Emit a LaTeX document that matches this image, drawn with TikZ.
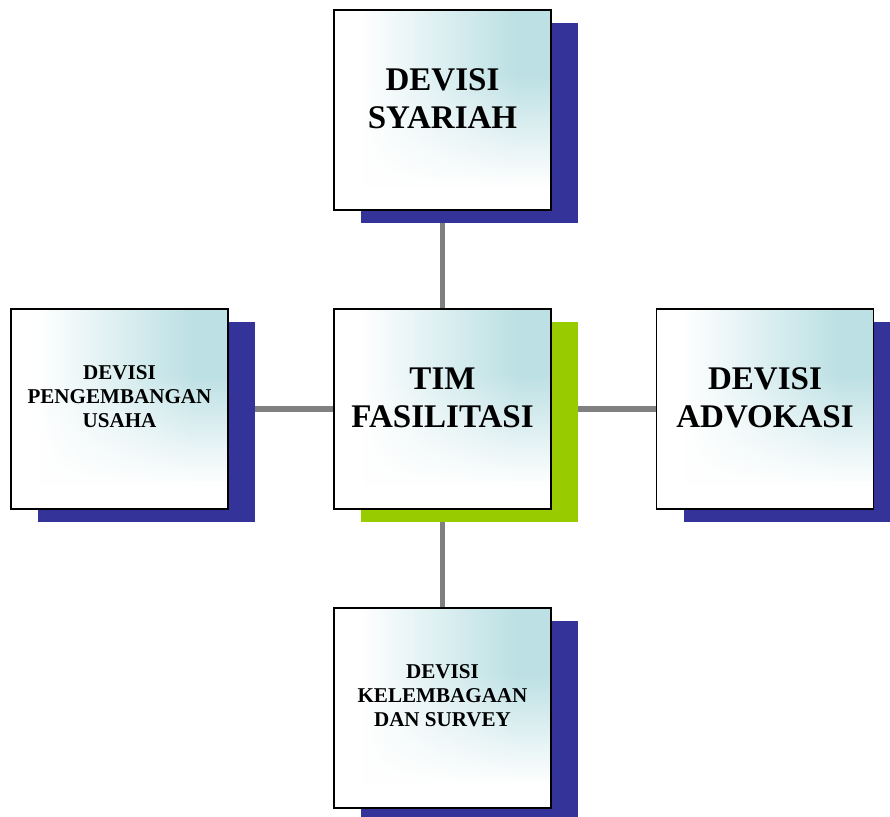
\documentclass[tikz,border=0pt]{standalone}
\usepackage{fontspec}
\setmainfont{Liberation Serif}
\usetikzlibrary{shadows,backgrounds,fadings}

\definecolor{shadeblue}{HTML}{333399}
\definecolor{shadegreen}{HTML}{99CC00}
\definecolor{boxblue}{HTML}{BCE0E4}
\definecolor{linkgray}{HTML}{808080}

% corner gradient of the boxes: white on the left, blue on the right, faded out downwards
\pgfdeclarehorizontalshading{boxhshade}{100bp}{color(0bp)=(white); color(31bp)=(white);
  color(67bp)=(boxblue); color(100bp)=(boxblue)}
\pgfdeclareverticalshading{boxvshade}{100bp}{color(0bp)=(pgftransparent!100); color(31bp)=(pgftransparent!100);
  color(59bp)=(pgftransparent!0); color(100bp)=(pgftransparent!0)}
\pgfdeclarefading{boxfade}{\pgfuseshading{boxvshade}}

\tikzset{
  unitbox/.style={draw=black, line width=1pt, minimum width=4.34cm, minimum height=4cm,
    inner sep=0pt, fill=white,
    path picture={\fill[shading=boxhshade, path fading=boxfade]
      (path picture bounding box.south west) rectangle (path picture bounding box.north east);},
    drop shadow={shadow xshift=0.54cm, shadow yshift=-0.26cm, fill=#1, opacity=1}},
  unitbox/.default=shadeblue,
  bigtext/.style={font=\fontsize{18.8}{21.6}\selectfont\bfseries, align=center, yshift=0.23cm},
  smalltext/.style={font=\fontsize{12}{13.7}\selectfont\bfseries, align=center, yshift=0.24cm},
  link/.style={draw=linkgray, line width=3.4pt}
}

\begin{document}
\begin{tikzpicture}[x=0.02cm, y=-0.02cm]
		\useasboundingbox (0, 0) rectangle (890, 817);
		
		%%%%% BOXES %%%%%
		\node[unitbox=shadegreen, label={[bigtext]center:{TIM\\FASILITASI}}] (tim) at (442.5, 409) {};
		\node[unitbox, label={[bigtext]center:{DEVISI\\SYARIAH}}] (syariah) at (442.5, 110) {};
		\node[unitbox, label={[smalltext]center:{DEVISI\\PENGEMBANGAN\\USAHA}}] (usaha) at (119.5, 409) {};
		\node[unitbox, label={[bigtext]center:{DEVISI\\ADVOKASI}}] (advokasi) at (765, 409) {};
		\node[unitbox, label={[smalltext]center:{DEVISI\\KELEMBAGAAN\\DAN SURVEY}}] (survey) at (442.5, 708) {};
		
		%%%%% LINKS %%%%%
		\begin{pgfonlayer}{background}
			\draw[link] (tim) -- (syariah);
			\draw[link] (tim) -- (usaha);
			\draw[link] (tim) -- (advokasi);
			\draw[link] (tim) -- (survey);
		\end{pgfonlayer}
	\end{tikzpicture}
\end{document}
